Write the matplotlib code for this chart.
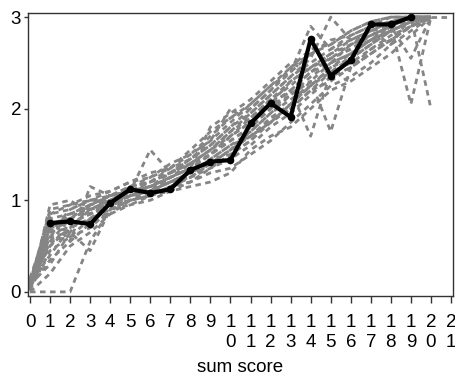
import matplotlib
matplotlib.use("Agg")
import matplotlib.pyplot as plt
import numpy as np

plt.rcParams['font.family'] = ['Liberation Sans', 'DejaVu Sans']

x_ticks = list(range(0, 22))
x_labels = ["\n".join(str(v)) for v in x_ticks]
y_ticks = [0, 1, 2, 3]

mean_x = list(range(1, 20))
mean_y = [0.75, 0.77, 0.74, 0.97, 1.12, 1.08, 1.12, 1.33, 1.42, 1.44,
          1.84, 2.06, 1.91, 2.76, 2.36, 2.53, 2.92, 2.92, 3.00]

# item curves, x = 0..20 (plus one item continuing to x = 21)
item_x = list(range(0, 21))
items = [
    [0.00, 0.00, 0.00, 0.55, 0.90, 1.00, 1.10, 1.20, 1.25, 1.40, 1.55, 1.70, 1.90, 2.05, 2.25, 2.45, 2.55, 2.70, 2.85, 2.95, 3.00],
    [0.02, 0.95, 1.00, 0.85, 0.95, 1.05, 1.10, 1.25, 1.35, 1.50, 1.65, 1.80, 2.00, 2.15, 2.35, 2.50, 2.60, 2.75, 2.85, 2.95, 3.00],
    [0.05, 0.80, 0.55, 1.15, 1.05, 1.10, 1.55, 1.30, 1.40, 1.55, 1.75, 1.90, 2.10, 2.25, 2.45, 2.55, 2.70, 2.80, 2.90, 3.00, 3.00],
    [0.08, 0.30, 0.65, 0.45, 0.90, 1.00, 1.05, 1.15, 1.20, 1.35, 1.50, 1.65, 1.85, 2.00, 2.20, 2.40, 2.50, 2.65, 2.80, 2.90, 3.00],
    [0.10, 0.40, 0.70, 0.80, 0.95, 1.10, 1.15, 1.20, 1.30, 1.45, 1.60, 1.75, 1.95, 2.15, 2.30, 1.75, 2.45, 2.60, 2.75, 2.90, 3.00],
    [0.12, 0.50, 0.75, 0.85, 1.00, 1.05, 1.10, 1.25, 1.35, 1.50, 1.70, 1.85, 2.05, 2.20, 1.70, 2.40, 2.55, 2.70, 2.85, 2.95, 3.00],
    [0.05, 0.55, 0.80, 0.90, 1.00, 1.15, 1.20, 1.30, 1.40, 1.55, 1.70, 1.90, 2.10, 2.30, 2.45, 2.60, 2.70, 2.85, 2.90, 2.05, 3.00],
    [0.10, 0.60, 0.85, 0.95, 1.05, 1.10, 1.15, 1.30, 1.45, 1.60, 1.80, 1.95, 2.15, 2.35, 2.50, 2.65, 2.75, 2.85, 2.70, 3.00, 2.00],
    [0.03, 0.65, 0.70, 0.90, 1.00, 1.05, 1.10, 1.20, 1.30, 1.40, 1.55, 1.75, 1.95, 2.10, 2.25, 2.40, 2.55, 2.70, 2.90, 2.55, 3.00],
    [0.07, 0.70, 0.75, 0.85, 0.95, 1.00, 1.05, 1.15, 1.25, 1.35, 1.45, 1.60, 1.80, 1.95, 2.15, 2.35, 2.45, 2.60, 2.75, 2.90, 3.00],
    [0.12, 0.75, 0.80, 0.90, 1.00, 1.10, 1.20, 1.35, 1.45, 1.65, 1.85, 2.05, 2.25, 2.40, 2.60, 2.75, 2.80, 2.90, 3.00, 3.00, 3.00],
    [0.15, 0.80, 0.85, 0.95, 1.05, 1.15, 1.25, 1.40, 1.50, 1.70, 1.90, 2.00, 2.20, 2.45, 2.65, 2.70, 2.85, 2.95, 3.00, 3.00, 3.00],
    [0.04, 0.85, 0.90, 1.00, 1.00, 1.10, 1.15, 1.25, 1.40, 1.55, 1.75, 1.95, 2.15, 2.35, 2.55, 3.00, 2.75, 2.85, 2.95, 3.00, 3.00],
    [0.09, 0.90, 0.95, 1.00, 1.05, 1.15, 1.20, 1.30, 1.45, 1.60, 1.80, 2.00, 2.20, 2.40, 2.90, 2.65, 2.80, 2.90, 2.95, 3.00, 3.00],
    [0.13, 0.70, 0.85, 0.90, 0.95, 1.05, 1.10, 1.20, 1.30, 1.45, 1.60, 1.70, 1.85, 2.05, 2.25, 2.45, 2.60, 2.75, 2.85, 2.95, 3.00],
    [0.06, 0.75, 0.80, 0.95, 1.00, 1.10, 1.15, 1.25, 1.35, 1.80, 1.95, 2.10, 2.30, 2.50, 2.40, 2.55, 2.65, 2.80, 2.90, 3.00, 3.00],
    [0.11, 0.85, 0.95, 1.05, 1.10, 1.20, 1.25, 1.35, 1.50, 1.65, 2.00, 1.85, 2.05, 2.20, 2.40, 2.55, 2.65, 2.75, 2.90, 3.00, 3.00],
    [0.02, 0.45, 0.60, 0.80, 0.90, 0.95, 1.05, 1.10, 1.20, 1.30, 1.35, 1.50, 1.65, 1.85, 2.05, 2.25, 2.35, 2.50, 2.70, 2.85, 3.00],
    [0.06, 0.35, 0.55, 0.75, 0.85, 0.95, 1.00, 1.10, 1.15, 1.20, 1.30, 1.55, 1.70, 1.80, 2.00, 2.20, 2.30, 2.45, 2.60, 2.80, 3.00],
    [0.14, 0.65, 0.90, 1.00, 1.10, 1.20, 1.30, 1.35, 1.55, 1.75, 1.90, 2.05, 2.25, 2.45, 2.60, 2.70, 2.85, 2.95, 3.00, 3.00, 3.00],
    [0.04, 0.55, 0.60, 0.70, 0.90, 1.05, 1.10, 1.20, 1.30, 1.45, 1.50, 1.65, 1.90, 2.00, 2.20, 2.30, 2.45, 2.65, 2.75, 2.90, 3.00],
    [0.08, 0.60, 0.65, 0.95, 1.05, 1.10, 1.20, 1.30, 1.40, 1.50, 1.65, 1.80, 2.00, 2.20, 2.40, 2.50, 2.70, 2.80, 2.90, 2.95, 3.00],
    [0.10, 0.50, 0.70, 0.80, 0.95, 1.05, 1.15, 1.25, 1.35, 1.50, 1.70, 1.85, 2.05, 2.30, 2.45, 2.60, 2.75, 2.85, 2.95, 3.00, 3.00],
    [0.00, 0.20, 0.50, 0.65, 0.85, 1.00, 1.05, 1.15, 1.25, 1.40, 1.55, 1.70, 1.85, 2.05, 2.30, 2.50, 2.60, 2.75, 2.85, 2.95, 3.00],
]
item_last_x = [20, 21]
item_last_y = [3.00, 3.00]

fig = plt.figure(figsize=(4.56, 3.76), dpi=100)
ax = fig.add_axes([28/456, 1-296/376, (453-28)/456, (296-13)/376])

for ys in items:
    ax.plot(item_x, ys, color='#858585', lw=2.0, linestyle=(0, (2, 1.6)))
ax.plot(item_last_x, item_last_y, color='#858585', lw=2.0, linestyle=(0, (2, 1.6)))

ax.plot(mean_x, mean_y, color='black', lw=3, marker='o', markersize=4.5)

ax.set_xlim(-0.1, 21.1)
ax.set_ylim(-0.045, 3.045)
ax.set_xticks(x_ticks)
ax.set_xticklabels(x_labels, fontsize=13.5, linespacing=1.2, va='top')
ax.set_yticks(y_ticks)
ax.set_yticklabels([str(v) for v in y_ticks], fontsize=13.5)
ax.tick_params(axis='x', length=5, width=1, color='#333333', pad=8)
ax.tick_params(axis='y', length=3, width=1, color='#333333', pad=2)
for s in ax.spines.values():
    s.set_color('#333333')
    s.set_linewidth(1)
fig.text(240.5/456, 1-368/376, 'sum score', fontsize=13.5, ha='center', va='center')

fig.savefig('out.png', dpi=100)
